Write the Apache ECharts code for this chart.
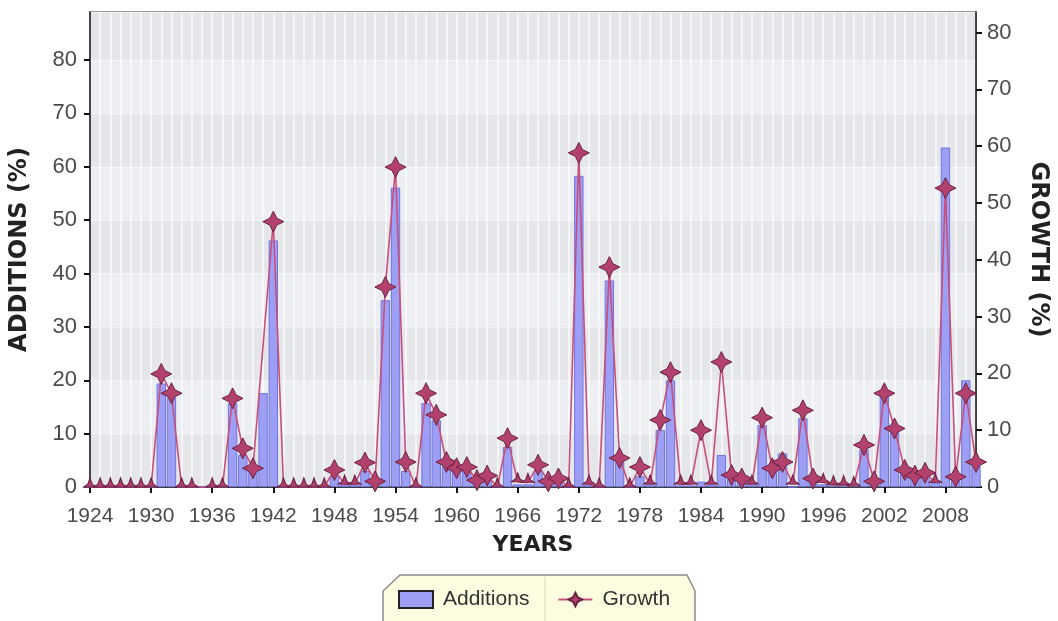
<!DOCTYPE html>
<html>
<head>
<meta charset="utf-8">
<script src="https://cdn.jsdelivr.net/npm/echarts@6/dist/echarts.min.js"></script>
<style>
  html, body { margin: 0; padding: 0; background: #fff; }
  #chart { width: 1058px; height: 621px; }
</style>
</head>
<body>
<div id="chart"></div>
<script>
// years on the x axis, 1924 .. 2011
var years = [];
for (var y = 1924; y <= 2011; y++) {
  years.push('' + y);
}

// additions (%), left axis
var additions = [
  0, 0, 0, 0, 0, 0, 0, 19.4, 16.8, 0,          // 1924-1933
  0, 0, 0, 0, 15.7, 6, 3, 17.6, 46.2, 0,       // 1934-1943
  0, 0, 0, 0, 2, 0.5, 0.5, 3, 0.5, 35,         // 1944-1953
  56.1, 3, 0, 15.7, 12.5, 4, 3, 3, 1, 1.5,     // 1954-1963
  0, 7.5, 0.5, 0.5, 3, 1, 1, 0, 58.3, 0.5,     // 1964-1973
  0, 38.7, 5, 0, 2, 0.5, 10.7, 20, 0.3, 0.3,   // 1974-1983
  1, 0.5, 6, 1.5, 1, 0.5, 11.6, 3, 6.3, 0,     // 1984-1993
  12.9, 1, 0.5, 0.3, 0.3, 0.2, 7, 1, 18.1, 11, // 1994-2003
  3, 2, 2.5, 0.8, 63.6, 1.5, 20, 4             // 2004-2011
];

// growth (%), right axis (null = no marker in the original)
var growth = [
  0, 0, 0, 0, 0, 0, 0, 19.9, 16.5, 0,             // 1924-1933
  0, null, 0, 0, 15.6, 6.8, 3.3, null, 46.7, 0,   // 1934-1943
  0, 0, 0, 0, 3, 0.5, 0.5, 4.3, 1, 35.2,          // 1944-1953
  56.3, 4.4, 0, 16.5, 12.7, 4.4, 3.3, 3.5, 1.2, 2, // 1954-1963
  0, 8.6, 0.9, 0.8, 3.9, 1, 1.5, 0, 58.8, 0.5,    // 1964-1973
  0, 38.7, 5.1, 0, 3.5, 0.5, 11.8, 20.2, 0.5, 0.5, // 1974-1983
  10, 0.5, 22, 2.1, 1.5, 0.5, 12.2, 3.3, 4.4, 0.5, // 1984-1993
  13.5, 1.5, 0.8, 0.4, 0.4, 0.2, 7.4, 1, 16.5, 10.3, // 1994-2003
  3, 2, 2.5, 0.8, 52.6, 1.8, 16.5, 4.4            // 2004-2011
];

var leftTicks = { min: 0, max: 89, interval: 10 };
var rightTicks = { min: 0, max: 83.6, interval: 10 };

var starPath = 'path://M0,-10 L3.3,-3.3 L10,0 L3.3,3.3 L0,10 L-3.3,3.3 L-10,0 L-3.3,-3.3 Z';
var halfStarPath = 'path://M-10,0 L-3.3,-3.3 L0,-10 L3.3,-3.3 L10,0 Z';

// markers sitting on the floor are cut off by the plot edge in the original
var growthData = growth.map(function (v) {
  if (v !== null && v < 1) {
    return { value: v, symbol: halfStarPath, symbolSize: [13, 9], symbolOffset: [0, -4.5] };
  }
  return v;
});

var tickFont = '"Liberation Sans Narrow", "Arial Narrow", "Liberation Sans", sans-serif';
var nameFont = '"DejaVu Sans", sans-serif';
var labelColor = '#4a4a4a';

var chart = echarts.init(document.getElementById('chart'));

var option = {
  animation: false,
  grid: {
    left: 88,
    right: 69,
    top: 12,
    bottom: 134,
    show: true,
    backgroundColor: '#e7e8eb',
    borderColor: '#7a7a7a',
    borderWidth: 1.5
  },
  legend: {
    left: 398,
    top: 589,
    padding: 0,
    itemWidth: 34,
    itemHeight: 17,
    itemGap: 28,
    textStyle: {
      fontFamily: '"Liberation Sans", Arial, sans-serif',
      fontSize: 21,
      color: '#333',
      padding: [0, 0, 0, 5]
    },
    data: [
      { name: 'Additions', icon: 'rect', itemStyle: { color: '#9d9ff5', borderColor: '#222', borderWidth: 2 } },
      { name: 'Growth' }
    ]
  },
  graphic: [
    {
      type: 'polygon',
      z: -1,
      shape: {
        points: [[383, 630], [383, 591], [400, 575], [687, 575], [695, 591], [695, 630]]
      },
      style: { fill: '#fcfce0', stroke: '#8c8c8c', lineWidth: 1.5 }
    },
    {
      type: 'line',
      z: -1,
      shape: { x1: 545, y1: 577, x2: 545, y2: 621 },
      style: { stroke: '#d8d8c0', lineWidth: 1 }
    }
  ],
  xAxis: {
    type: 'category',
    data: years,
    boundaryGap: false,
    name: 'YEARS',
    nameLocation: 'middle',
    nameGap: 47,
    nameTextStyle: { fontFamily: nameFont, fontSize: 22, fontWeight: 'bold', color: '#222' },
    axisLine: { lineStyle: { color: '#111', width: 1.5 } },
    axisTick: { interval: 5, length: 6, lineStyle: { color: '#111', width: 2 } },
    axisLabel: { interval: 5, margin: 19, fontFamily: tickFont, fontSize: 21, color: labelColor },
    splitLine: { show: true, interval: 0, lineStyle: { color: 'rgba(255,255,255,0.6)', width: 2 } }
  },
  yAxis: [
    {
      type: 'value',
      min: leftTicks.min,
      max: leftTicks.max,
      interval: leftTicks.interval,
      name: 'ADDITIONS (%)',
      nameLocation: 'middle',
      nameGap: 58,
      nameTextStyle: { fontFamily: nameFont, fontSize: 24, fontWeight: 'bold', color: '#222' },
      axisLine: { show: true, lineStyle: { color: '#111', width: 1.5 } },
      axisTick: { show: true, length: 6, lineStyle: { color: '#111', width: 2 } },
      axisLabel: { showMaxLabel: false, margin: 13, fontFamily: tickFont, fontSize: 22, color: labelColor },
      splitLine: { show: true, lineStyle: { color: 'rgba(255,255,255,0.5)', width: 1 } },
      splitArea: { show: true, areaStyle: { color: ['#e5e6e9', '#eceef1'] } }
    },
    {
      type: 'value',
      min: rightTicks.min,
      max: rightTicks.max,
      interval: rightTicks.interval,
      position: 'right',
      name: 'GROWTH (%)',
      nameLocation: 'middle',
      nameRotate: -90,
      nameGap: 50,
      nameTextStyle: { fontFamily: nameFont, fontSize: 24, fontWeight: 'bold', color: '#222' },
      axisLine: { show: true, lineStyle: { color: '#111', width: 1.5 } },
      axisTick: { show: true, length: 6, lineStyle: { color: '#111', width: 2 } },
      axisLabel: { showMaxLabel: false, margin: 11, fontFamily: tickFont, fontSize: 22, color: labelColor },
      splitLine: { show: false }
    }
  ],
  series: [
    {
      name: 'Additions',
      type: 'bar',
      yAxisIndex: 0,
      data: additions,
      barCategoryGap: '8%',
      itemStyle: { color: '#9d9ff5', borderColor: '#7074dc', borderWidth: 1 }
    },
    {
      name: 'Growth',
      type: 'line',
      yAxisIndex: 1,
      data: growthData,
      connectNulls: true,
      showAllSymbol: true,
      symbol: starPath,
      symbolSize: 21,
      lineStyle: { color: '#c84f7c', width: 1.6 },
      itemStyle: { color: '#b3416e', borderColor: '#6a2244', borderWidth: 1 },
      z: 3
    }
  ]
};

chart.setOption(option);
</script>
</body>
</html>
